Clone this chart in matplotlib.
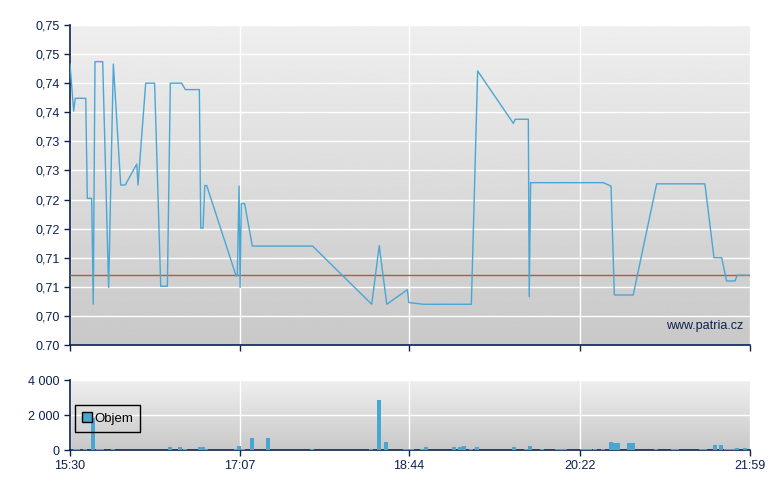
import numpy as np
import matplotlib
matplotlib.use("Agg")
import matplotlib.pyplot as plt
from matplotlib.patches import Patch

plt.rcParams['font.family'] = ['Liberation Sans', 'DejaVu Sans']

NAVY = "#0b2150"
LINE_BLUE = "#4aa6d4"
BAR_BLUE = "#48a6d0"

# price: minutes after 15:30 -> value
price_min = [0.0, 2.1, 3.0, 9.0, 9.9, 12.4, 13.3, 14.3, 18.7, 22.1, 24.8, 29.0, 31.6,
             38.2, 38.9, 43.3, 48.4, 51.9, 55.7, 57.4, 63.9, 66.0, 74.0, 74.8, 76.1,
             77.1, 78.2, 95.0, 95.7, 96.7, 97.3, 98.0, 99.9, 104.3, 138.8, 172.6,
             176.9, 181.2, 193.0, 193.8, 202.1, 229.6, 233.2, 253.6, 254.7, 262.2,
             262.7, 263.5, 305.1, 309.5, 311.4, 322.2, 335.6, 363.2, 368.4, 372.8,
             375.6, 380.4, 381.7, 389.0]
price_val = [0.7483, 0.7402, 0.7424, 0.7424, 0.7252, 0.7252, 0.7070, 0.7487, 0.7487,
             0.7099, 0.7483, 0.7275, 0.7275, 0.7311, 0.7275, 0.7450, 0.7450, 0.7101,
             0.7101, 0.7450, 0.7450, 0.7439, 0.7439, 0.7201, 0.7201, 0.7274, 0.7274,
             0.7119, 0.7119, 0.7273, 0.7099, 0.7243, 0.7243, 0.7170, 0.7170, 0.7070,
             0.7171, 0.7070, 0.7095, 0.7073, 0.7070, 0.7070, 0.7471, 0.7381, 0.7388,
             0.7388, 0.7083, 0.7279, 0.7279, 0.7273, 0.7086, 0.7086, 0.7277, 0.7277,
             0.7150, 0.7150, 0.7110, 0.7110, 0.7120, 0.7120]
prev_close = 0.712

# volume
vol_min = [2.6, 4.6, 8.6, 13.4, 16.0, 18.3, 24.6, 57.2, 63.2, 65.8, 74.1, 75.8, 77.8,
           94.7, 96.7, 99.0, 104.1, 113.3, 138.4, 172.2, 176.8, 180.8, 191.9, 193.9,
           195.9, 201.6, 203.6, 219.6, 223.1, 225.4, 229.4, 232.8, 254.0, 260.8, 263.1,
           270.0, 278.6, 280.9, 283.4, 292.9, 295.2, 297.5, 300.3, 304.9, 309.5, 311.7,
           313.7, 319.8, 322.1, 335.2, 344.9, 347.2, 361.0, 363.2, 369.0, 372.4, 375.3,
           377.5, 379.5, 381.5, 386.1]
vol_qty = [70, 70, 70, 1850, 70, 70, 70, 200, 200, 70, 200, 200, 70,
           70, 250, 70, 710, 710, 70, 70, 2880, 460, 70, 70,
           70, 70, 200, 200, 200, 250, 70, 200, 200, 70, 230,
           70, 70, 70, 70, 70, 70, 70, 70, 70, 460, 400,
           400, 400, 400, 70, 70, 70, 70, 70, 290, 290, 70,
           70, 70, 135, 135]

x_ticks = [0, 97, 194, 292, 389]
x_labels = ["15:30", "17:07", "18:44", "20:22", "21:59"]
y_ticks = [0.700, 0.705, 0.710, 0.715, 0.720, 0.725, 0.730, 0.735, 0.740, 0.745, 0.750, 0.755]
y_labels = ["0.70", "0,70", "0,71", "0,71", "0,72", "0,72", "0,73", "0,73", "0,74", "0,74", "0,75", "0,75"]
v_ticks = [0, 2000, 4000]
v_labels = ["0", "2 000", "4 000"]


def gradient_bg(ax):
    grad = np.linspace(0.935, 0.785, 256).reshape(-1, 1)
    ax.imshow(grad, extent=[0, 1, 0, 1], transform=ax.transAxes, aspect='auto',
              cmap='gray', vmin=0, vmax=1, zorder=0, interpolation='bilinear')


def style(ax):
    for s in ["top", "right"]:
        ax.spines[s].set_visible(False)
    for s in ["left", "bottom"]:
        ax.spines[s].set_color(NAVY)
        ax.spines[s].set_linewidth(1.2)
    ax.tick_params(colors=NAVY, labelcolor=NAVY, labelsize=9, length=4, width=1.0)
    ax.grid(True, color="white", linewidth=1.0)


fig = plt.figure(figsize=(7.8, 4.9), dpi=100)
ax = fig.add_axes([70 / 780, 145 / 490, 680 / 780, 320 / 490])
axv = fig.add_axes([70 / 780, 40 / 490, 680 / 780, 70 / 490])

# price panel
gradient_bg(ax)
style(ax)
ax.plot(price_min, price_val, color=LINE_BLUE, linewidth=1.0, zorder=3)
ax.axhline(prev_close, color="#b85450", linewidth=1.0, zorder=2.8)
ax.set_xlim(0, 389)
ax.set_ylim(0.700, 0.755)
ax.set_xticks(x_ticks)
ax.set_xticklabels([])
ax.set_yticks(y_ticks)
ax.set_yticklabels(y_labels)
ax.text(0.99, 0.06, "www.patria.cz", transform=ax.transAxes, ha="right", va="center",
        color=NAVY, fontsize=9, zorder=4)

# volume panel
gradient_bg(axv)
style(axv)
axv.bar(vol_min, vol_qty, width=2.3, color=BAR_BLUE, zorder=3)
axv.set_xlim(0, 389)
axv.set_ylim(0, 4000)
axv.set_xticks(x_ticks)
axv.set_xticklabels(x_labels)
axv.set_yticks(v_ticks)
axv.set_yticklabels(v_labels)

leg = axv.legend(handles=[Patch(facecolor=BAR_BLUE, edgecolor="black", label="Objem")],
                 loc="upper left", bbox_to_anchor=(0.007, 0.64), fontsize=9.5,
                 handlelength=0.75, handleheight=0.75, handletextpad=0.15,
                 borderpad=0.55, borderaxespad=0, fancybox=False)
frame = leg.get_frame()
frame.set_alpha(None)
frame.set_facecolor("none")
frame.set_edgecolor("black")
frame.set_linewidth(1.0)
leg.set_zorder(5)

fig.savefig("out.png", dpi=100)
